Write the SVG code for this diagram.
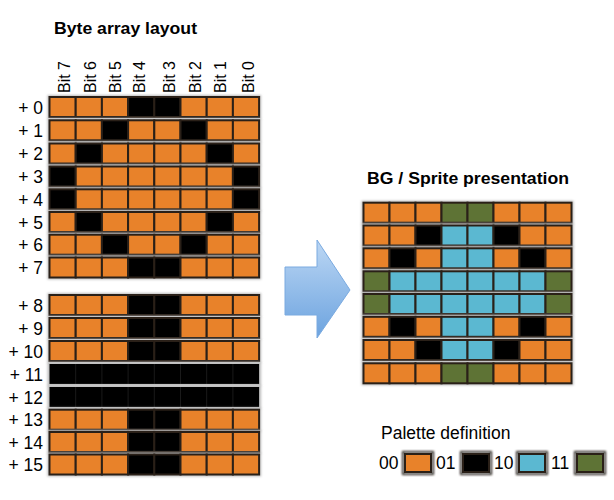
<svg xmlns="http://www.w3.org/2000/svg" xmlns:xlink="http://www.w3.org/1999/xlink" width="614" height="500" viewBox="0 0 614 500">
<style>
text{font-family:"Liberation Sans",Arial,sans-serif;fill:#000}
.title{font-weight:bold;font-size:17px}
.lbl{font-size:17.5px}
.bit{font-size:16px}
.o{fill:#E8822A}
.k{fill:#000}
.b{fill:#5BB8D1}
.g{fill:#5E7335}
.c rect{stroke:#2a2018;stroke-width:2}
.glow{fill:#bdbdbd;filter:url(#blur)}
</style>
<defs>
<filter id="blur" x="-10%" y="-50%" width="120%" height="200%"><feGaussianBlur stdDeviation="1.2"/></filter>
<linearGradient id="ag" x1="0" y1="0" x2="0" y2="1"><stop offset="0" stop-color="#BCD7F4"/><stop offset="1" stop-color="#6CA3DF"/></linearGradient>
<g id="lglow"><rect class="glow" x="-2" y="-2" width="213.6" height="24"/></g>
<g id="LA" class="c"><use xlink:href="#lglow"/><rect class="o" x="0" y="0" width="26.2" height="20"/><rect class="o" x="26.2" y="0" width="26.2" height="20"/><rect class="o" x="52.4" y="0" width="26.2" height="20"/><rect class="k" x="78.6" y="0" width="26.2" height="20"/><rect class="k" x="104.8" y="0" width="26.2" height="20"/><rect class="o" x="131" y="0" width="26.2" height="20"/><rect class="o" x="157.2" y="0" width="26.2" height="20"/><rect class="o" x="183.4" y="0" width="26.2" height="20"/></g>
<g id="LB" class="c"><use xlink:href="#lglow"/><rect class="o" x="0" y="0" width="26.2" height="20"/><rect class="o" x="26.2" y="0" width="26.2" height="20"/><rect class="k" x="52.4" y="0" width="26.2" height="20"/><rect class="o" x="78.6" y="0" width="26.2" height="20"/><rect class="o" x="104.8" y="0" width="26.2" height="20"/><rect class="k" x="131" y="0" width="26.2" height="20"/><rect class="o" x="157.2" y="0" width="26.2" height="20"/><rect class="o" x="183.4" y="0" width="26.2" height="20"/></g>
<g id="LC" class="c"><use xlink:href="#lglow"/><rect class="o" x="0" y="0" width="26.2" height="20"/><rect class="k" x="26.2" y="0" width="26.2" height="20"/><rect class="o" x="52.4" y="0" width="26.2" height="20"/><rect class="o" x="78.6" y="0" width="26.2" height="20"/><rect class="o" x="104.8" y="0" width="26.2" height="20"/><rect class="o" x="131" y="0" width="26.2" height="20"/><rect class="k" x="157.2" y="0" width="26.2" height="20"/><rect class="o" x="183.4" y="0" width="26.2" height="20"/></g>
<g id="LD" class="c"><use xlink:href="#lglow"/><rect class="k" x="0" y="0" width="26.2" height="20"/><rect class="o" x="26.2" y="0" width="26.2" height="20"/><rect class="o" x="52.4" y="0" width="26.2" height="20"/><rect class="o" x="78.6" y="0" width="26.2" height="20"/><rect class="o" x="104.8" y="0" width="26.2" height="20"/><rect class="o" x="131" y="0" width="26.2" height="20"/><rect class="o" x="157.2" y="0" width="26.2" height="20"/><rect class="k" x="183.4" y="0" width="26.2" height="20"/></g>
<g id="LE"><use xlink:href="#lglow"/><rect class="k" x="0" y="0" width="209.6" height="20"/><g stroke="#1a1a1a" stroke-width="1"><path d="M26.2 0V20M52.4 0V20M78.6 0V20M104.8 0V20M131 0V20M157.2 0V20M183.4 0V20"/></g></g>
<g id="sglow"><rect class="glow" x="-2" y="-2" width="212" height="24"/></g>
<g id="S0" class="c"><use xlink:href="#sglow"/><rect class="o" x="0" y="0" width="26" height="20"/><rect class="o" x="26" y="0" width="26" height="20"/><rect class="o" x="52" y="0" width="26" height="20"/><rect class="g" x="78" y="0" width="26" height="20"/><rect class="g" x="104" y="0" width="26" height="20"/><rect class="o" x="130" y="0" width="26" height="20"/><rect class="o" x="156" y="0" width="26" height="20"/><rect class="o" x="182" y="0" width="26" height="20"/></g>
<g id="S1" class="c"><use xlink:href="#sglow"/><rect class="o" x="0" y="0" width="26" height="20"/><rect class="o" x="26" y="0" width="26" height="20"/><rect class="k" x="52" y="0" width="26" height="20"/><rect class="b" x="78" y="0" width="26" height="20"/><rect class="b" x="104" y="0" width="26" height="20"/><rect class="k" x="130" y="0" width="26" height="20"/><rect class="o" x="156" y="0" width="26" height="20"/><rect class="o" x="182" y="0" width="26" height="20"/></g>
<g id="S2" class="c"><use xlink:href="#sglow"/><rect class="o" x="0" y="0" width="26" height="20"/><rect class="k" x="26" y="0" width="26" height="20"/><rect class="o" x="52" y="0" width="26" height="20"/><rect class="b" x="78" y="0" width="26" height="20"/><rect class="b" x="104" y="0" width="26" height="20"/><rect class="o" x="130" y="0" width="26" height="20"/><rect class="k" x="156" y="0" width="26" height="20"/><rect class="o" x="182" y="0" width="26" height="20"/></g>
<g id="S3" class="c"><use xlink:href="#sglow"/><rect class="g" x="0" y="0" width="26" height="20"/><rect class="b" x="26" y="0" width="26" height="20"/><rect class="b" x="52" y="0" width="26" height="20"/><rect class="b" x="78" y="0" width="26" height="20"/><rect class="b" x="104" y="0" width="26" height="20"/><rect class="b" x="130" y="0" width="26" height="20"/><rect class="b" x="156" y="0" width="26" height="20"/><rect class="g" x="182" y="0" width="26" height="20"/></g>
</defs>
<rect width="614" height="500" fill="#fff"/>

<g id="title-left"><text class="title" x="54" y="34" textLength="143" lengthAdjust="spacingAndGlyphs">Byte array layout</text></g>
<g id="bit-labels">
<text class="bit" transform="translate(70,93) rotate(-90)">Bit 7</text>
<text class="bit" transform="translate(96,93) rotate(-90)">Bit 6</text>
<text class="bit" transform="translate(121,93) rotate(-90)">Bit 5</text>
<text class="bit" transform="translate(145,93) rotate(-90)">Bit 4</text>
<text class="bit" transform="translate(175,93) rotate(-90)">Bit 3</text>
<text class="bit" transform="translate(201,93) rotate(-90)">Bit 2</text>
<text class="bit" transform="translate(226,93) rotate(-90)">Bit 1</text>
<text class="bit" transform="translate(254,93) rotate(-90)">Bit 0</text>
</g>

<g id="byte-rows">
<g id="b0"><text class="lbl" x="43" y="114" text-anchor="end">+ 0</text><use xlink:href="#LA" x="49.5" y="97"/></g>
<g id="b1"><text class="lbl" x="43" y="137" text-anchor="end">+ 1</text><use xlink:href="#LB" x="49.5" y="120.3"/></g>
<g id="b2"><text class="lbl" x="43" y="160" text-anchor="end">+ 2</text><use xlink:href="#LC" x="49.5" y="143.5"/></g>
<g id="b3"><text class="lbl" x="43" y="183" text-anchor="end">+ 3</text><use xlink:href="#LD" x="49.5" y="166.5"/></g>
<g id="b4"><text class="lbl" x="43" y="206" text-anchor="end">+ 4</text><use xlink:href="#LD" x="49.5" y="189.3"/></g>
<g id="b5"><text class="lbl" x="43" y="229" text-anchor="end">+ 5</text><use xlink:href="#LC" x="49.5" y="212"/></g>
<g id="b6"><text class="lbl" x="43" y="251" text-anchor="end">+ 6</text><use xlink:href="#LB" x="49.5" y="234.7"/></g>
<g id="b7"><text class="lbl" x="43" y="274" text-anchor="end">+ 7</text><use xlink:href="#LA" x="49.5" y="257.5"/></g>
<g id="b8"><text class="lbl" x="43" y="312" text-anchor="end">+ 8</text><use xlink:href="#LA" x="49.5" y="295"/></g>
<g id="b9"><text class="lbl" x="43" y="335" text-anchor="end">+ 9</text><use xlink:href="#LA" x="49.5" y="318"/></g>
<g id="b10"><text class="lbl" x="43" y="358" text-anchor="end">+ 10</text><use xlink:href="#LA" x="49.5" y="341"/></g>
<g id="b11"><text class="lbl" x="43" y="381" text-anchor="end">+ 11</text><use xlink:href="#LE" x="49.5" y="364"/></g>
<g id="b12"><text class="lbl" x="43" y="404" text-anchor="end">+ 12</text><use xlink:href="#LE" x="49.5" y="387"/></g>
<g id="b13"><text class="lbl" x="43" y="426" text-anchor="end">+ 13</text><use xlink:href="#LA" x="49.5" y="409.7"/></g>
<g id="b14"><text class="lbl" x="43" y="449" text-anchor="end">+ 14</text><use xlink:href="#LA" x="49.5" y="432"/></g>
<g id="b15"><text class="lbl" x="43" y="471" text-anchor="end">+ 15</text><use xlink:href="#LA" x="49.5" y="454.5"/></g>
</g>

<g id="connectors">
<path d="M285 267H317V240L350 290L317 338V315H285Z" fill="url(#ag)" stroke="#7AAAE0" stroke-width="1"/>
</g>

<g id="title-right"><text class="title" x="367" y="184" textLength="202" lengthAdjust="spacingAndGlyphs">BG / Sprite presentation</text></g>
<g id="sprite-rows">
<g id="s0"><use xlink:href="#S0" x="363.5" y="202.7"/></g>
<g id="s1"><use xlink:href="#S1" x="363.5" y="225.5"/></g>
<g id="s2"><use xlink:href="#S2" x="363.5" y="248.3"/></g>
<g id="s3"><use xlink:href="#S3" x="363.5" y="271.3"/></g>
<g id="s4"><use xlink:href="#S3" x="363.5" y="294"/></g>
<g id="s5"><use xlink:href="#S2" x="363.5" y="316.8"/></g>
<g id="s6"><use xlink:href="#S1" x="363.5" y="340"/></g>
<g id="s7"><use xlink:href="#S0" x="363.5" y="363.3"/></g>
</g>

<g id="palette">
<text class="lbl" x="381" y="439">Palette definition</text>
<g class="c">
<text class="lbl" x="379" y="469">00</text>
<rect class="glow" x="403" y="452" width="30" height="22"/>
<rect class="o" x="405" y="454" width="26" height="18"/>
<text class="lbl" x="436" y="469">01</text>
<rect class="glow" x="461" y="452" width="30" height="22"/>
<rect class="k" x="463" y="454" width="26" height="18"/>
<text class="lbl" x="494" y="469">10</text>
<rect class="glow" x="517" y="452" width="30" height="22"/>
<rect class="b" x="519" y="454" width="26" height="18"/>
<text class="lbl" x="551" y="469">11</text>
<rect class="glow" x="575" y="452" width="30" height="22"/>
<rect class="g" x="577" y="454" width="26" height="18"/>
</g>
</g>
</svg>
